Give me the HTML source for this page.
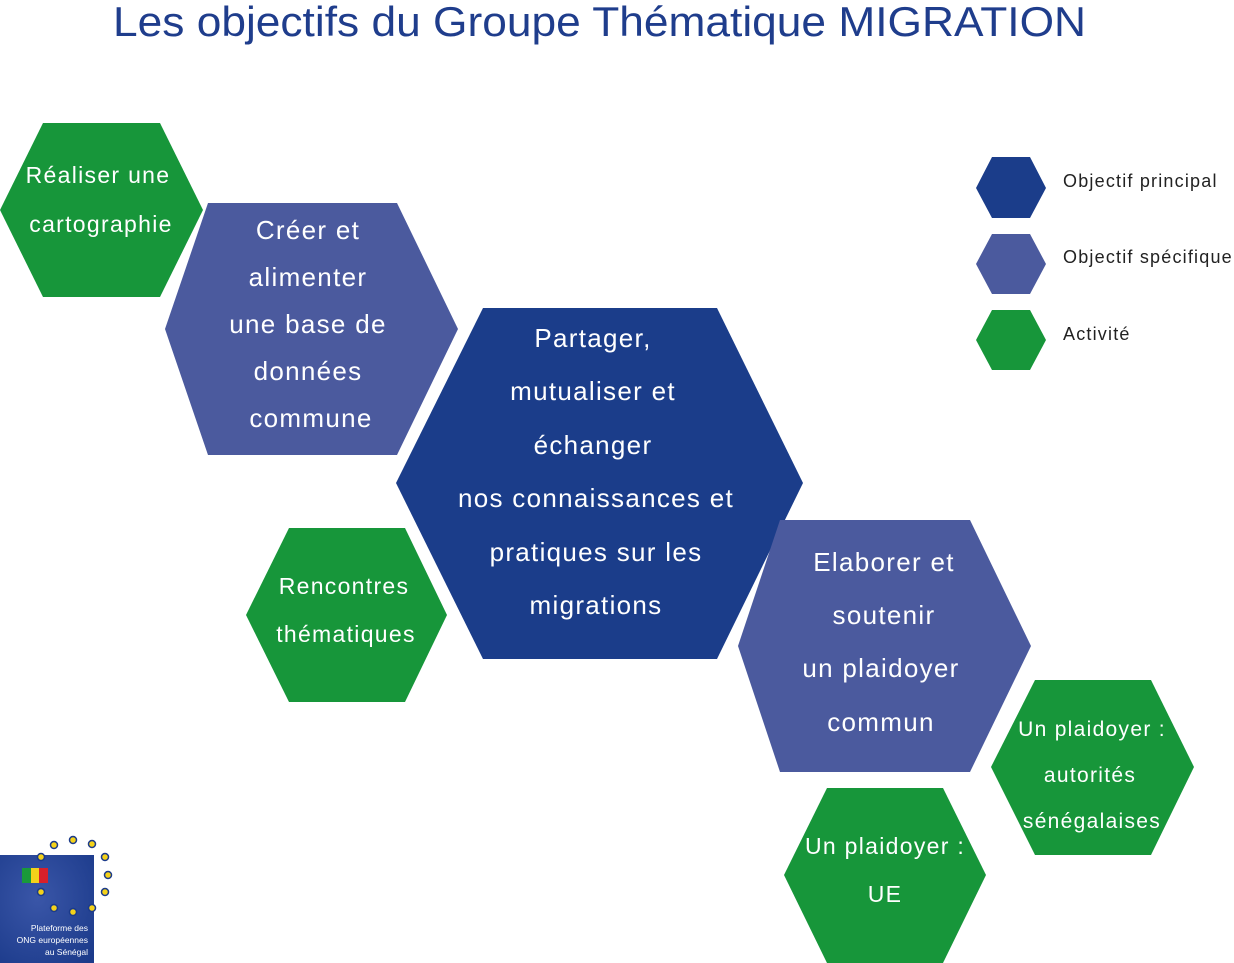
<!DOCTYPE html>
<html><head><meta charset="utf-8"><style>
html,body{margin:0;padding:0;background:#fff}
svg{display:block}
text{font-family:"Liberation Sans","DejaVu Sans",sans-serif}
.w{fill:#fff;text-anchor:middle;letter-spacing:1.3px}
.l{letter-spacing:1.2px}
</style></head><body>
<svg width="1234" height="963" viewBox="0 0 1234 963" xmlns="http://www.w3.org/2000/svg">
<text x="113" y="36" font-size="42" fill="#1f3d8c" textLength="973" lengthAdjust="spacingAndGlyphs">Les objectifs du Groupe Thématique MIGRATION</text>

<polygon points="43,123 160,123 203,210 160,297 43,297 0,210" fill="#17963a"/>
<polygon points="208,203 397,203 458,329 397,455 208,455 165,329" fill="#4b5a9e"/>
<polygon points="483,308 717,308 803,483 717,659 483,659 396,483" fill="#1b3d8a"/>
<polygon points="289,528 405,528 447,615 405,702 289,702 246,615" fill="#17963a"/>
<polygon points="780,520 970,520 1031,646 970,772 780,772 738,646" fill="#4b5a9e"/>
<polygon points="1035,680 1151,680 1194,767 1151,855 1035,855 991,767" fill="#17963a"/>
<polygon points="827,788 943,788 986,875 943,963 827,963 784,875" fill="#17963a"/>

<polygon points="992,157 1030,157 1046,188 1030,218 992,218 976,188" fill="#1b3d8a"/>
<polygon points="992,234 1030,234 1046,264 1030,294 992,294 976,264" fill="#4b5a9e"/>
<polygon points="992,310 1030,310 1046,340 1030,370 992,370 976,340" fill="#17963a"/>
<text class="l" x="1063" y="187" font-size="18" fill="#222">Objectif principal</text>
<text class="l" x="1063" y="263" font-size="18" fill="#222">Objectif spécifique</text>
<text class="l" x="1063" y="340" font-size="18" fill="#222">Activité</text>

<g font-size="23">
<text class="w" x="98" y="183">Réaliser une</text>
<text class="w" x="101" y="232">cartographie</text>
</g>
<g font-size="26">
<text class="w" x="308" y="239">Créer et</text>
<text class="w" x="308" y="286">alimenter</text>
<text class="w" x="308" y="333">une base de</text>
<text class="w" x="308" y="380">données</text>
<text class="w" x="311" y="427">commune</text>
</g>
<g font-size="26">
<text class="w" x="593" y="347">Partager,</text>
<text class="w" x="593" y="400">mutualiser et</text>
<text class="w" x="593" y="454">échanger</text>
<text class="w" x="596" y="507">nos connaissances et</text>
<text class="w" x="596" y="561">pratiques sur les</text>
<text class="w" x="596" y="614">migrations</text>
</g>
<g font-size="23">
<text class="w" x="344" y="594">Rencontres</text>
<text class="w" x="346" y="642">thématiques</text>
</g>
<g font-size="26">
<text class="w" x="884" y="571">Elaborer et</text>
<text class="w" x="884" y="624">soutenir</text>
<text class="w" x="881" y="677">un plaidoyer</text>
<text class="w" x="881" y="731">commun</text>
</g>
<g font-size="21">
<text class="w" x="1092" y="736">Un plaidoyer :</text>
<text class="w" x="1090" y="782">autorités</text>
<text class="w" x="1092" y="828">sénégalaises</text>
</g>
<g font-size="23">
<text class="w" x="885" y="854">Un plaidoyer :</text>
<text class="w" x="885" y="902">UE</text>
</g>

<defs><radialGradient id="g" cx="0.4" cy="0.4" r="0.8"><stop offset="0" stop-color="#3a56a8"/><stop offset="1" stop-color="#1b3a8a"/></radialGradient></defs>
<rect x="0" y="855" width="94" height="108" fill="url(#g)"/>
<rect x="22" y="868" width="9" height="15" fill="#1a9a3a"/>
<rect x="31" y="868" width="8" height="15" fill="#f4d21a"/>
<rect x="39" y="868" width="9" height="15" fill="#d8202a"/>
<g fill="#f4d21a" stroke="#1b3a8a" stroke-width="1.5">
<circle cx="54" cy="845" r="3.5"/><circle cx="73" cy="840" r="3.5"/><circle cx="92" cy="844" r="3.5"/>
<circle cx="105" cy="857" r="3.5"/><circle cx="108" cy="875" r="3.5"/><circle cx="105" cy="892" r="3.5"/>
<circle cx="92" cy="908" r="3.5"/><circle cx="73" cy="912" r="3.5"/><circle cx="54" cy="908" r="3.5"/>
<circle cx="41" cy="892" r="3.5"/><circle cx="41" cy="857" r="3.5"/>
</g>
<g font-size="8.5" fill="#fff" text-anchor="end">
<text x="88" y="931">Plateforme des</text>
<text x="88" y="943">ONG européennes</text>
<text x="88" y="955">au Sénégal</text>
</g>
</svg>
</body></html>
